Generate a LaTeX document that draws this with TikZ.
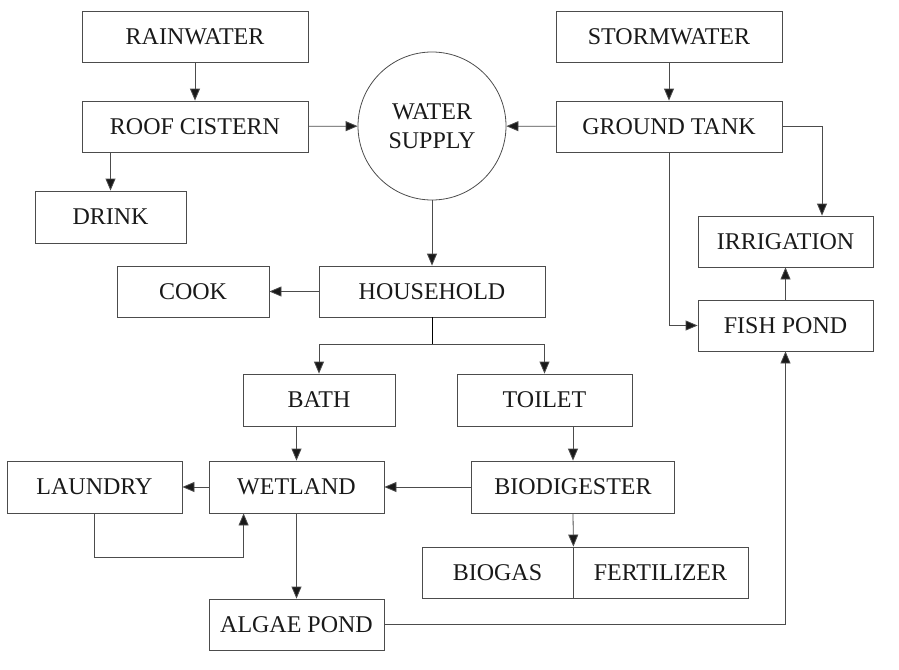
\documentclass[tikz,border=0pt]{standalone}
\usepackage{fontspec}
\setmainfont{Liberation Serif}
\usepackage{tikz}
\usetikzlibrary{arrows.meta, positioning, calc}

\begin{document}
\begin{tikzpicture}[
  x=1pt, y=-1pt,
  every node/.style={align=center, font=\fontsize{24}{29}\selectfont, text=black!90},
  box/.style={rectangle, draw=black!70, line width=0.8pt, inner sep=0pt,
              minimum width=175pt, minimum height=51pt},
  widebox/.style={box, minimum width=226pt},
  smallbox/.style={box, minimum width=152pt},
  supplycircle/.style={circle, draw=black!70, line width=0.8pt, inner sep=0pt,
                       minimum size=148pt},
  arrow/.style={-{Triangle[length=12pt, width=10pt, fill=black!90]}, line width=0.8pt, draw=black!70}
]
\useasboundingbox (0,0) rectangle (899,669);

% ---- Rain side ----
\node (rain)  [widebox]                at (195,36.5)  {RAINWATER};
\node (roof)  [widebox]                at (195,126.5) {ROOF CISTERN};
\node (drink) [smallbox, minimum width=151pt, minimum height=52pt] at (110.5,217) {DRINK};

% ---- Supply ----
\node (supply) [supplycircle]          at (432,126)   {WATER\\SUPPLY};

% ---- Storm side ----
\node (storm) [widebox]                at (669,36.5)  {STORMWATER};
\node (ground)[widebox]                at (669,126.5) {GROUND TANK};
\node (irrig) [box]                    at (785.5,241.5) {IRRIGATION};
\node (fish)  [box]                    at (785.5,325.5) {FISH POND};

% ---- Household ----
\node (house) [widebox]                at (432,291.5) {HOUSEHOLD};
\node (cook)  [smallbox]               at (193,291.5) {COOK};
\node (bath)  [smallbox, minimum height=52pt] at (319,400)   {BATH};
\node (toilet)[box, minimum height=52pt]      at (544.5,400) {TOILET};

% ---- Treatment ----
\node (wetland) [box, minimum height=52pt]    at (296.5,487) {WETLAND};
\node (laundry) [box, minimum height=52pt]    at (94.5,487)  {LAUNDRY};
\node (biodig)  [box, minimum width=203pt, minimum height=52pt] at (573,487) {BIODIGESTER};
\node (biogas)  [box, minimum width=151pt]    at (497.5,572.5) {BIOGAS};
\node (fert)    [box]                         at (660.5,572.5) {FERTILIZER};
\node (algae)   [box]                         at (296.5,624.5) {ALGAE POND};

% ---- Helper points ----
\coordinate (split)   at ($(house.south)+(0,27)$);
\coordinate (irrigin) at ([xshift=36.5pt]irrig.north);
\coordinate (wetin)   at ([xshift=35pt]wetland.south west);

% ---- Arrows ----
\draw [arrow] (rain)  -- (roof);
\draw [arrow] (roof)  -- (supply);
\draw [arrow] (roof.south -| drink.north) -- (drink.north);
\draw [arrow] (storm) -- (ground);
\draw [arrow] (ground) -- (supply);
\draw [arrow] (ground.east) -| (irrigin);
\draw [arrow] (ground.south) |- (fish.west);
\draw [arrow] (fish)  -- (irrig);
\draw [arrow] (supply) -- (house);
\draw [arrow] (house) -- (cook);
\draw (house.south) -- (split);
\draw [arrow] (split) -| (bath.north);
\draw [arrow] (split) -| (toilet.north);
\draw [arrow] (bath.south -| wetland.north) -- (wetland.north);
\draw [arrow] (toilet.south -| biodig.north) -- (biodig.north);
\draw [arrow] (biodig) -- (wetland);
\draw [arrow] (wetland) -- (laundry);
\draw [arrow] (laundry.south) -- ++(0,44) -| (wetin);
\draw [arrow] (biodig.south) -- (biogas.north east);
\draw [arrow] (wetland) -- (algae);
\draw [arrow] (algae.east) -| (fish.south);
\end{tikzpicture}
\end{document}
